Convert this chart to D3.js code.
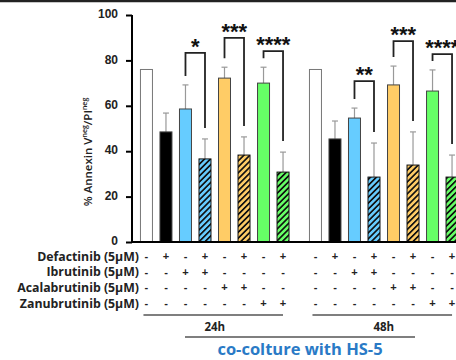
<!DOCTYPE html>
<html>
<head>
<meta charset="utf-8">
<script src="https://cdn.jsdelivr.net/npm/d3@7"></script>
<style>
  body { margin: 0; background: #fff; }
  svg { display: block; }
</style>
</head>
<body>
<svg width="456" height="360"></svg>
<script>
var svg = d3.select("svg");

// data
var groups = ["24h", "48h"];
var conditions = ["ctrl", "def", "ibr", "def+ibr", "aca", "def+aca", "zan", "def+zan"];
var means24 = [76, 48.5, 58.6, 36.6, 72.2, 38.3, 70, 30.8];
var errs24 = [0, 8.3, 10.6, 8.8, 4.8, 8, 7, 8.8];
var means48 = [76, 45.4, 54.6, 28.6, 69.2, 33.9, 66.5, 28.6];
var errs48 = [0, 7.9, 4.4, 15, 8.3, 14.6, 9.3, 9.7];
var barColors = ["#ffffff", "#000000", "#66ccff", "#66ccff", "#ffcc66", "#ffcc66", "#66ff66", "#66ff66"];
var hatched = [false, false, false, true, false, true, false, true];

var drugs = ["Defactinib (5\u00b5M)", "Ibrutinib (5\u00b5M)", "Acalabrutinib (5\u00b5M)", "Zanubrutinib (5\u00b5M)"];
var defSigns = ["-", "+", "-", "+", "-", "+", "-", "+"];
var ibrSigns = ["-", "-", "+", "+", "-", "-", "-", "-"];
var acaSigns = ["-", "-", "-", "-", "+", "+", "-", "-"];
var zanSigns = ["-", "-", "-", "-", "-", "-", "+", "+"];

var pairs = [[2, 3], [4, 5], [6, 7]];
var bracket24 = [83.3, 89.9, 84.1];
var stars24 = ["*", "***", "****"];
var bracket48 = [70.9, 88.5, 82.8];
var stars48 = ["**", "***", "****"];

var yTicks = [0, 20, 40, 60, 80, 100];

var byGroup = {
  "24h": { means: means24, errs: errs24, brackets: bracket24, stars: stars24 },
  "48h": { means: means48, errs: errs48, brackets: bracket48, stars: stars48 }
};

var axisX = 132;
var x0 = d3.scaleBand().domain(groups).range([136.75, 461.75]).paddingInner(0.077);
var x1 = d3.scaleBand().domain(conditions).range([0, x0.bandwidth()]).paddingInner(0.385).paddingOuter(0.19);
var y = d3.scaleLinear().domain([0, 100]).range([242, 15]);

function cx(g, i) { return x0(g) + x1(conditions[i]) + x1.bandwidth() / 2; }

// frame line on top
svg.append("line")
   .attr("x1", 0).attr("x2", 456)
   .attr("y1", 1).attr("y2", 1)
   .attr("stroke", "#222").attr("stroke-width", 2.5);

// hatch patterns
var defs = svg.append("defs");
["#66ccff", "#ffcc66", "#66ff66"].forEach(function(c, k) {
  var p = defs.append("pattern")
     .attr("id", "hatch" + k)
     .attr("patternUnits", "userSpaceOnUse")
     .attr("width", 4.2).attr("height", 4.2)
     .attr("patternTransform", "rotate(45)");
  p.append("rect").attr("width", 4.2).attr("height", 4.2).attr("fill", c);
  p.append("rect").attr("x", 0).attr("width", 1.7).attr("height", 4.2).attr("fill", "#111");
});
function fillFor(i) {
  if (!hatched[i]) return barColors[i];
  return "url(#hatch" + ((i - 3) / 2) + ")";
}
function strokeFor(i) {
  if (i == 0) return "#777";
  if (hatched[i]) return "#111";
  return "#444";
}

// y axis
var yAxis = svg.append("g")
   .attr("transform", "translate(" + axisX + ",0)")
   .call(d3.axisLeft(y).tickValues(yTicks).tickSize(6).tickPadding(8));
yAxis.select(".domain").attr("stroke", "#000").attr("stroke-width", 2).attr("d", "M0," + y(100) + "V" + y(0));
yAxis.selectAll(".tick line").attr("stroke", "#000").attr("stroke-width", 2);
yAxis.selectAll(".tick text")
   .attr("dy", "0.22em")
   .attr("font-family", "Liberation Sans, Arial, sans-serif")
   .attr("font-weight", "bold")
   .attr("font-size", 12)
   .attr("fill", "#222");

// y label
var yl = svg.append("text")
   .attr("transform", "translate(92,152) rotate(-90)")
   .attr("text-anchor", "middle")
   .attr("font-family", "Open Sans, sans-serif")
   .attr("font-weight", 600)
   .attr("font-size", 11.5)
   .attr("fill", "#222");
yl.append("tspan").text("% Annexin V");
yl.append("tspan").attr("font-size", 7).attr("dy", -5).text("neg");
yl.append("tspan").attr("dy", 5).text("/PI");
yl.append("tspan").attr("font-size", 7).attr("dy", -5).text("neg");

groups.forEach(function(g) {
  var d = byGroup[g];
  var gg = svg.append("g");

  // error bars (upper whisker only)
  conditions.forEach(function(c, i) {
    if (d.errs[i] <= 0) return;
    var xc = cx(g, i);
    gg.append("line")
       .attr("x1", xc).attr("x2", xc)
       .attr("y1", y(d.means[i])).attr("y2", y(d.means[i] + d.errs[i]))
       .attr("stroke", "#999").attr("stroke-width", 1.2);
    gg.append("line")
       .attr("x1", xc - 3).attr("x2", xc + 3)
       .attr("y1", y(d.means[i] + d.errs[i])).attr("y2", y(d.means[i] + d.errs[i]))
       .attr("stroke", "#999").attr("stroke-width", 1.2);
  });

  gg.selectAll("rect.bar")
     .data(d.means)
     .enter().append("rect")
     .attr("class", "bar")
     .attr("x", function(v, i) { return x0(g) + x1(conditions[i]); })
     .attr("y", function(v) { return y(v); })
     .attr("width", x1.bandwidth())
     .attr("height", function(v) { return y(0) - y(v); })
     .attr("fill", function(v, i) { return fillFor(i); })
     .attr("stroke", function(v, i) { return strokeFor(i); })
     .attr("stroke-width", 1);

  // significance brackets
  pairs.forEach(function(pr, k) {
    var xa = cx(g, pr[0]), xb = cx(g, pr[1]);
    var yt = y(d.brackets[k]);
    var ya = y(d.means[pr[0]] + d.errs[pr[0]]) - 9;
    var yb = y(d.means[pr[1]] + d.errs[pr[1]]) - 11;
    gg.append("path")
       .attr("d", "M" + xa + "," + ya + "V" + yt + "H" + xb + "V" + yb)
       .attr("fill", "none")
       .attr("stroke", "#222")
       .attr("stroke-width", 1.8);
    gg.append("text")
       .attr("x", (xa + xb) / 2)
       .attr("y", yt + 1)
       .attr("text-anchor", "middle")
       .attr("font-family", "Liberation Sans, Arial, sans-serif")
       .attr("font-weight", "bold")
       .attr("font-size", 22)
       .attr("fill", "#111")
       .text(d.stars[k]);
  });

  // treatment table
  [defSigns, ibrSigns, acaSigns, zanSigns].forEach(function(row, r) {
    gg.selectAll(null)
       .data(row)
       .enter().append("text")
       .attr("x", function(s, i) { return cx(g, i); })
       .attr("y", 260 + r * 15.7)
       .attr("text-anchor", "middle")
       .attr("font-family", "Liberation Sans, Arial, sans-serif")
       .attr("font-weight", "bold")
       .attr("font-size", 11)
       .attr("fill", "#222")
       .text(function(s) { return s; });
  });

  // group underline and label
  gg.append("line")
     .attr("x1", cx(g, 0) - 3).attr("x2", cx(g, 7))
     .attr("y1", 315).attr("y2", 315)
     .attr("stroke", "#555").attr("stroke-width", 1.5);
  gg.append("text")
     .attr("x", (cx(g, 0) + cx(g, 7)) / 2)
     .attr("y", 331)
     .attr("text-anchor", "middle")
     .attr("font-family", "Open Sans, sans-serif")
     .attr("font-weight", "bold")
     .attr("font-size", 11.5)
     .attr("fill", "#222")
     .text(g);
});

// x axis baseline
svg.append("line")
   .attr("x1", axisX - 1).attr("x2", 456)
   .attr("y1", y(0)).attr("y2", y(0))
   .attr("stroke", "#000").attr("stroke-width", 2);

// drug labels
svg.selectAll("text.drug")
   .data(drugs)
   .enter().append("text")
   .attr("class", "drug")
   .attr("x", 139)
   .attr("y", function(d, r) { return 260.5 + r * 15.7; })
   .attr("text-anchor", "end")
   .attr("font-family", "Open Sans, sans-serif")
   .attr("font-weight", "bold")
   .attr("font-size", 12.3)
   .attr("fill", "#222")
   .text(function(d) { return d; });

// bottom caption
svg.append("line")
   .attr("x1", 185).attr("x2", 415)
   .attr("y1", 337).attr("y2", 337)
   .attr("stroke", "#555").attr("stroke-width", 1.5);
svg.append("text")
   .attr("x", 300)
   .attr("y", 355)
   .attr("text-anchor", "middle")
   .attr("font-family", "Open Sans, sans-serif")
   .attr("font-weight", "bold")
   .attr("font-size", 16.5)
   .attr("fill", "#2a7ac6")
   .text("co-colture with HS-5");
</script>
</body>
</html>
